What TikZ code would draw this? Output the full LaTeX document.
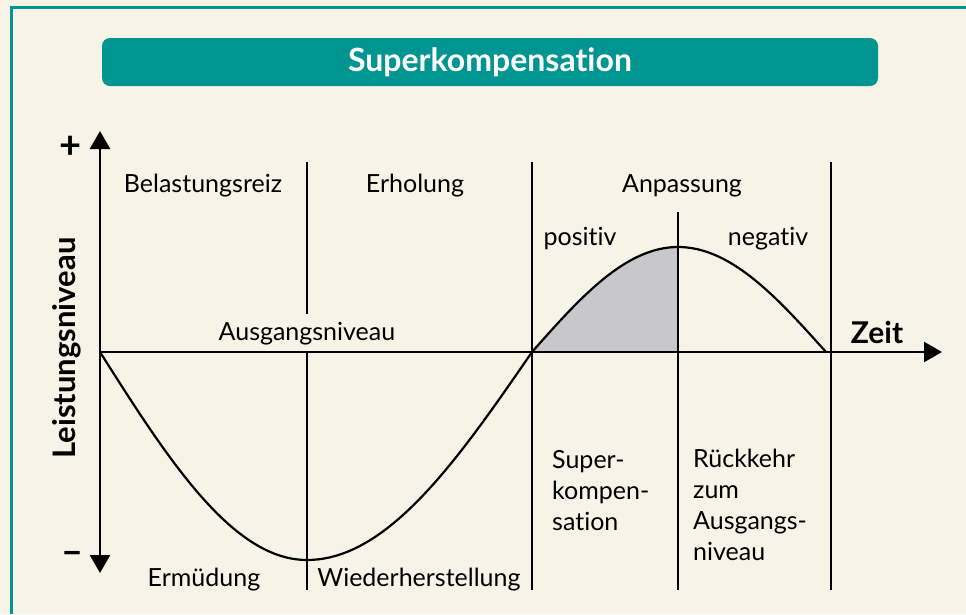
\documentclass[tikz,border=0pt]{standalone}
\usepackage{fontspec}
\setmainfont{Lato}[Ligatures=NoCommon]
\usetikzlibrary{arrows.meta,positioning}
\definecolor{tealbar}{RGB}{0,149,145}
\definecolor{cream}{RGB}{247,243,230}
\definecolor{areagray}{RGB}{200,200,202}

\begin{document}
\begin{tikzpicture}[x=1pt,y=-1pt,
  >={Triangle[length=18pt,width=20pt]},
  lbl/.style={font=\fontsize{25}{31}\selectfont,inner sep=0pt,anchor=base},
  blbl/.style={font=\fontsize{30}{36}\selectfont\bfseries,inner sep=0pt,anchor=base},
  sign/.style={font=\fontsize{38}{40}\selectfont\bfseries,inner sep=0pt},
  sep/.style={line width=2pt},
  curve/.style={line width=2.2pt,line join=round},
  ax/.style={line width=2.4pt}]
% frame and title
\fill[cream] (0,0) rectangle (966,614);
\useasboundingbox (0,0) rectangle (966,614);
\draw[tealbar,line width=3pt] (11,614) -- (11,7) -- (966,7);
\node[fill=tealbar,rounded corners=8pt,minimum width=776pt,minimum height=48pt,
  inner sep=0pt,font=\fontsize{32}{36}\selectfont\bfseries,text=white]
  (title) at (490,62) {Superkompensation};

% axes
\coordinate (O) at (100,352);
\coordinate (ytop) at (100,131);
\coordinate (ybot) at (100,573);
\coordinate (xend) at (942,352);

% shaded part of the curve
\fill[areagray] (532,352) -- plot[domain=180:270,samples=40]
  ({532+(\x-180)/90*146},{352+105*sin(\x)}) -- (678,352) -- cycle;

% phase lines
\draw[sep] (307,162) -- (307,314);
\draw[sep] (307,352) -- (307,590);
\draw[sep] (532,162) -- (532,590);
\draw[sep] (678,212) -- (678,590);
\draw[sep] (831,162) -- (831,590);

\draw[ax,<->] (ytop) -- (ybot);
\draw[ax,->] (O) -- (xend);

% performance curve
\draw[curve] plot[domain=0:90,samples=40] ({100+\x/90*207},{352+208*sin(\x)})
  -- plot[domain=90:180,samples=40] ({307+(\x-90)/90*225},{352+208*sin(\x)})
  -- plot[domain=180:270,samples=40] ({532+(\x-180)/90*146},{352+105*sin(\x)})
  -- plot[domain=270:360,samples=40] ({678+(\x-270)/90*148},{352+105*sin(\x)});

% labels
\node[sign] (plus) at (71,147) {+};
\node[sign] (minus) at (73,558) {–};
\node[blbl,rotate=90,font=\fontsize{31}{36}\selectfont\bfseries] (ylab) at (75,348) {Leistungsniveau};
\node[blbl] (zeit) at (877,343) {Zeit};
\node[lbl] (reiz) at (203,192) {Belastungsreiz};
\node[lbl] (erh) at (415,192) {Erholung};
\node[lbl] (anp) at (682,192) {Anpassung};
\node[lbl] (pos) at (580,245) {positiv};
\node[lbl] (neg) at (768,245) {negativ};
\node[lbl] (ausg) at (307,340) {Ausgangsniveau};
\node[lbl,anchor=base west,align=left] (superk) at (552,530) {Super-\\kompen-\\sation};
\node[lbl,anchor=base west,align=left] (rueck) at (693,560) {Rückkehr\\zum\\Ausgangs-\\niveau};
\node[lbl] (erm) at (204,586) {Ermüdung};
\node[lbl] (wied) at (419,586) {Wiederherstellung};
\end{tikzpicture}
\end{document}
